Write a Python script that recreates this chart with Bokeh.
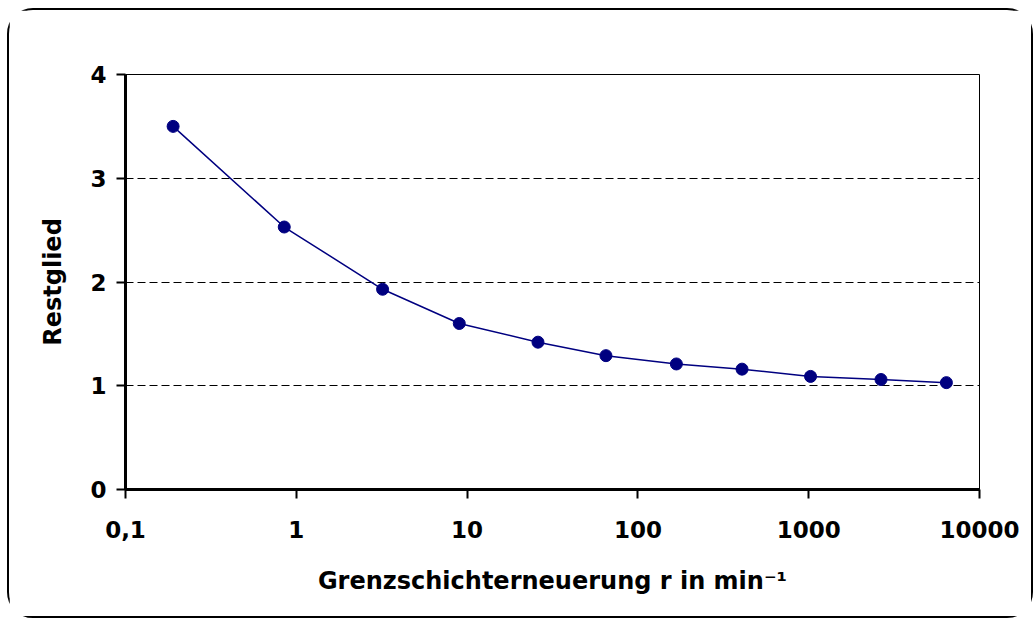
from bokeh.plotting import figure
from bokeh.models import Range1d, FixedTicker
from bokeh.embed import file_html
from bokeh.resources import INLINE

# data
r_values = [0.19, 0.85, 3.2, 9.0, 26, 65, 168, 407, 1025, 2650, 6400]
restglied = [3.50, 2.53, 1.93, 1.60, 1.42, 1.29, 1.21, 1.16, 1.09, 1.06, 1.03]
x_ticks = [0.1, 1, 10, 100, 1000, 10000]
x_tick_labels = ["0,1", "1", "10", "100", "1000", "10000"]
y_ticks = [0, 1, 2, 3, 4]
grid_lines = [1, 2, 3]

FONT = "DejaVu Sans"

p = figure(width=1026, height=610, x_axis_type="log",
           x_range=Range1d(0.1, 10000), y_range=Range1d(0, 4),
           output_backend="svg", toolbar_location=None,
           min_border_left=116, min_border_right=56,
           min_border_top=64, min_border_bottom=131)
p.margin = (8, 0, 0, 7)
p.styles = {"border": "2px solid black", "border-radius": "26px"}
p.background_fill_color = "white"
p.border_fill_color = "white"
p.outline_line_color = "black"
p.outline_line_width = 1

p.line(r_values, restglied, line_color="#000080", line_width=1.5)
p.scatter(r_values, restglied, size=12, fill_color="#000080", line_color="#000080")

p.xgrid.visible = False
p.ygrid.ticker = FixedTicker(ticks=grid_lines)
p.ygrid.grid_line_color = "black"
p.ygrid.grid_line_dash = "8 4"
p.ygrid.grid_line_width = 1

xa = p.xaxis[0]
xa.ticker = FixedTicker(ticks=x_ticks)
xa.major_label_overrides = {t: l for t, l in zip(x_ticks, x_tick_labels)}
xa.axis_label = "Grenzschichterneuerung r in min\u207b\u00b9"
ya = p.yaxis[0]
ya.ticker = FixedTicker(ticks=y_ticks)
ya.axis_label = "Restglied"

for ax in (xa, ya):
    ax.axis_line_width = 3
    ax.axis_line_color = "black"
    ax.major_tick_line_width = 2
    ax.major_tick_line_color = "black"
    ax.major_tick_out = 9
    ax.major_tick_in = 0
    ax.minor_tick_line_color = None
    ax.major_label_text_font = FONT
    ax.major_label_text_font_style = "bold"
    ax.major_label_text_font_size = "23px"
    ax.major_label_text_color = "black"
    ax.axis_label_text_font = FONT
    ax.axis_label_text_font_style = "bold"
    ax.axis_label_text_font_size = "24px"
    ax.axis_label_text_color = "black"

xa.major_label_standoff = 22
xa.axis_label_standoff = 26
ya.major_label_standoff = 10
ya.axis_label_standoff = 20

open("out.html", "w").write(file_html(p, INLINE))
